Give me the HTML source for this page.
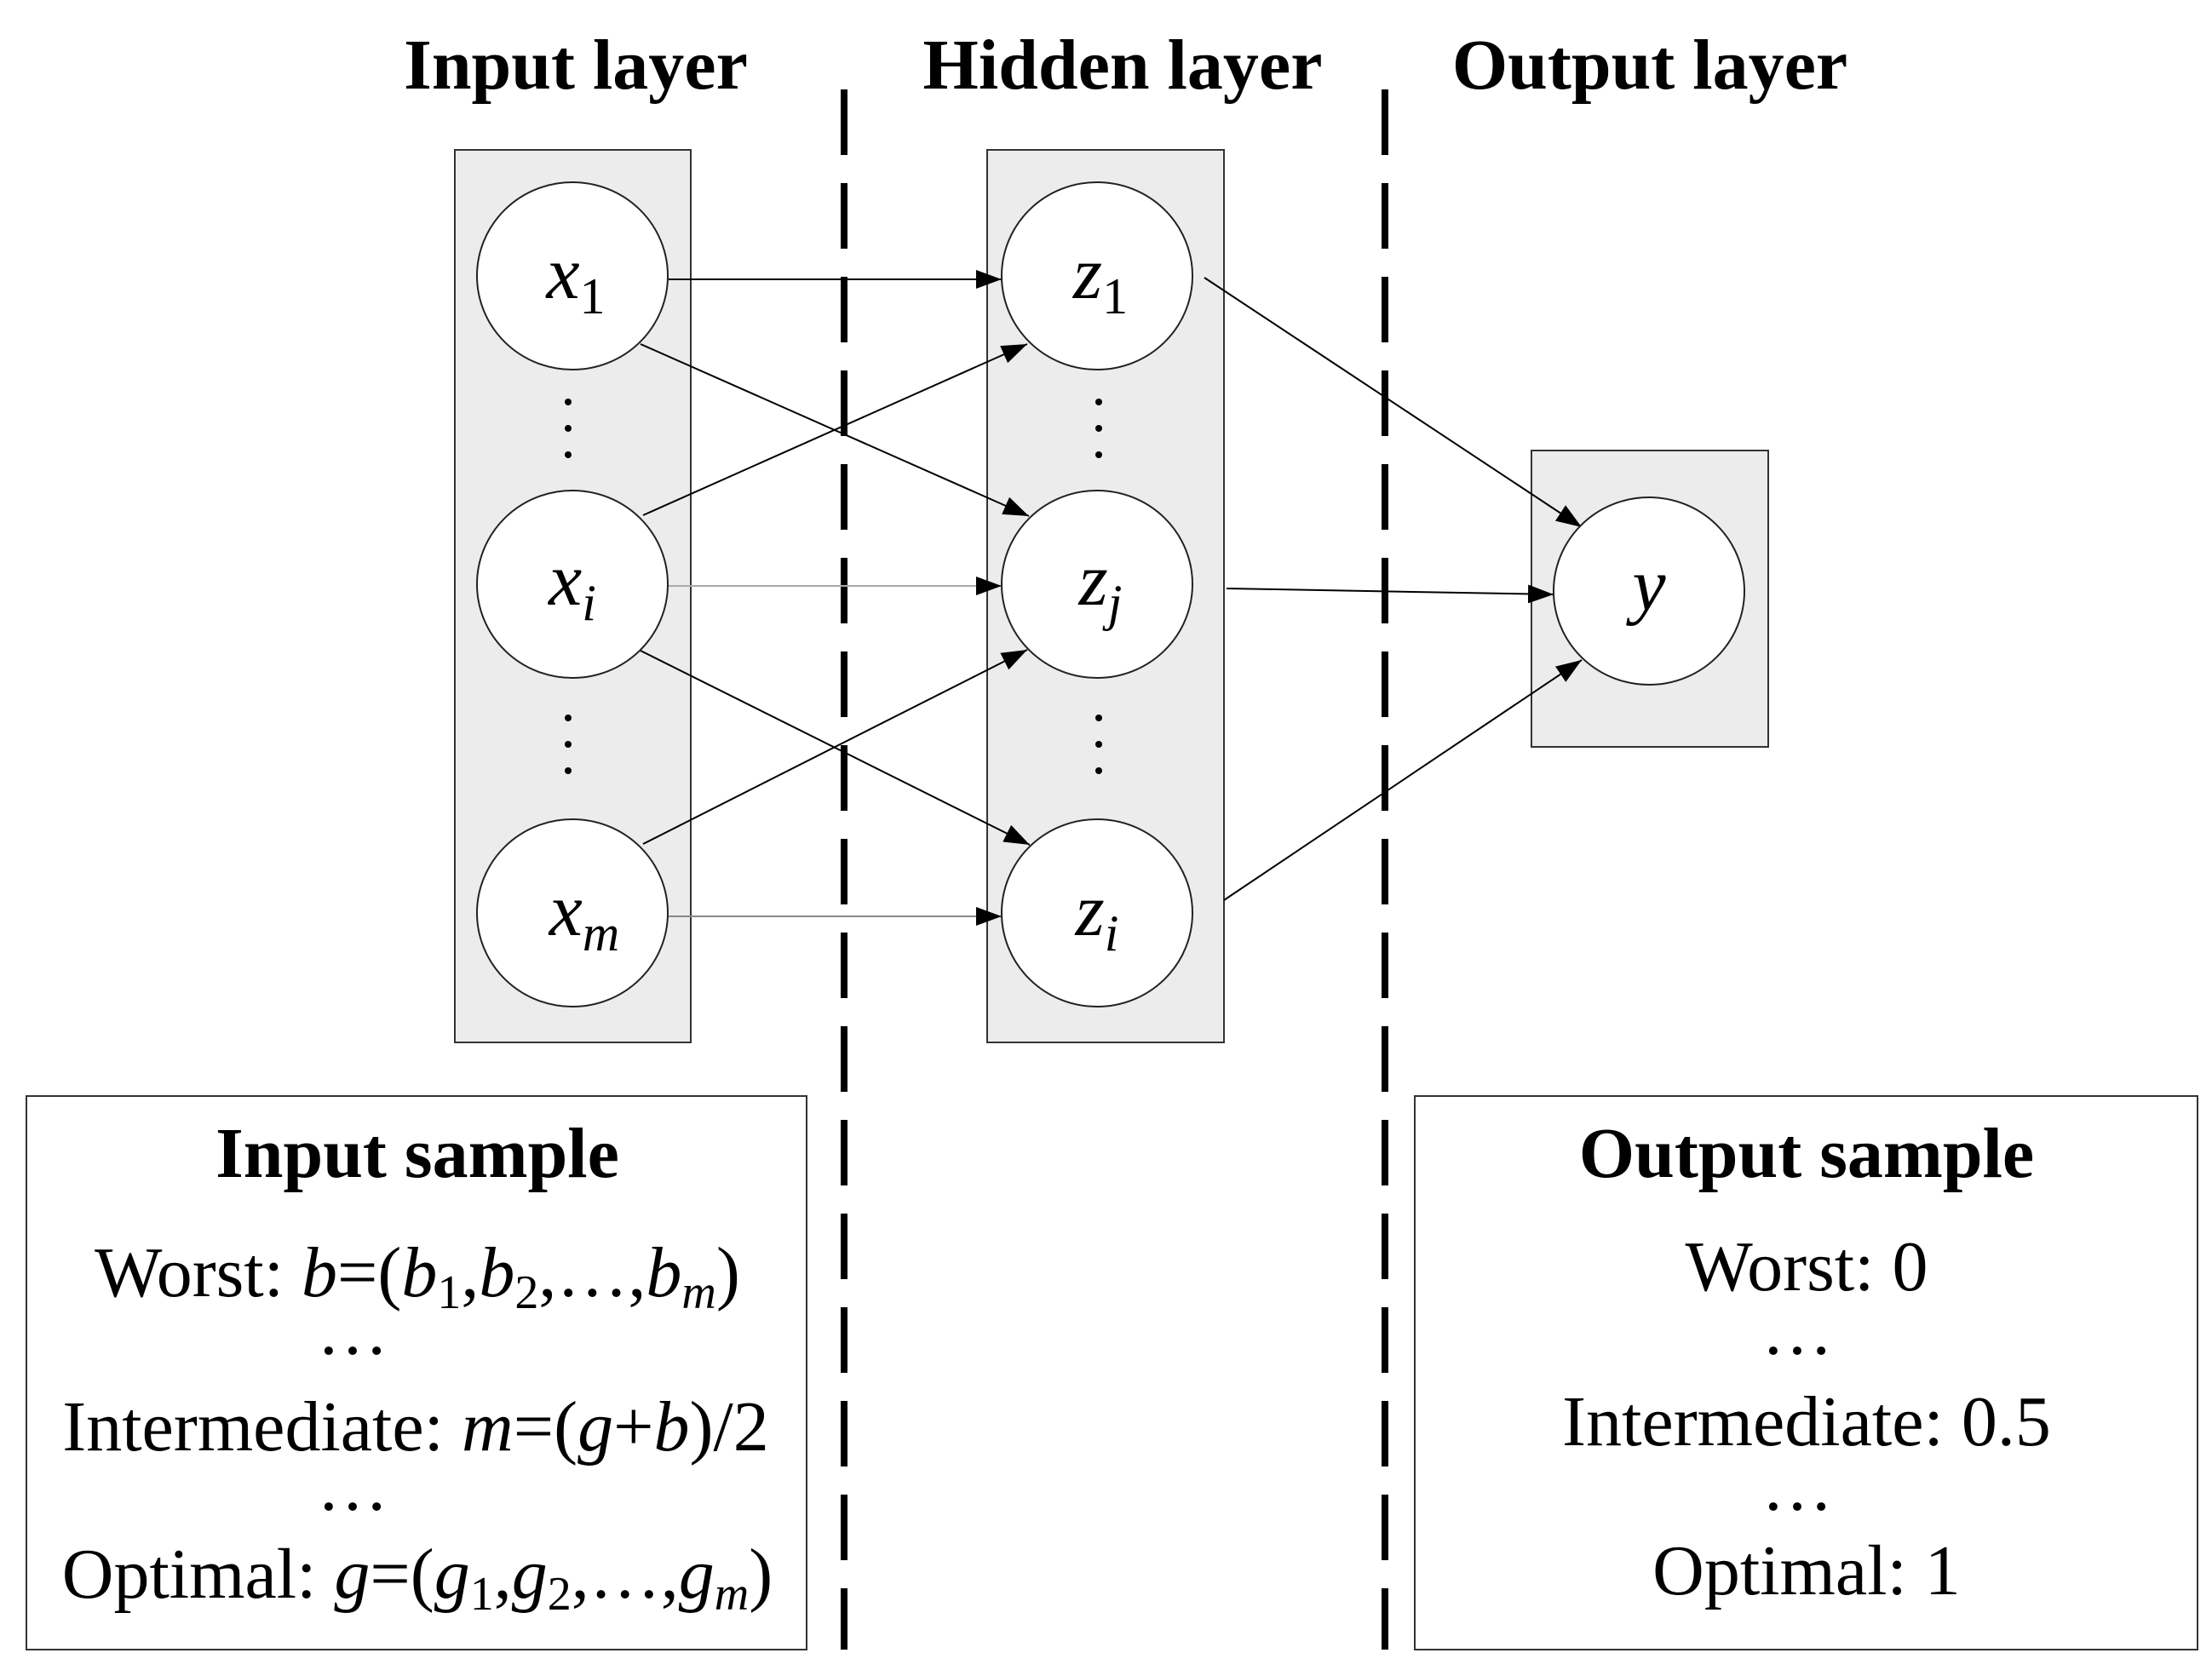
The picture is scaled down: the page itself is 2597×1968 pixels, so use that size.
<!DOCTYPE html>
<html><head><meta charset="utf-8"><style>
html,body{margin:0;padding:0;background:#fff;}
svg{display:block;}
text{font-family:"Liberation Serif",serif;}
</style></head><body>
<svg width="2597" height="1968" viewBox="0 0 2597 1968" xmlns="http://www.w3.org/2000/svg">
<defs>
<marker id="b" markerWidth="30" markerHeight="22" refX="30" refY="11" orient="auto" markerUnits="userSpaceOnUse" viewBox="0 0 30 22">
<path d="M0,0 L30,11 L0,22 z" fill="#000"/></marker>
</defs>
<g font-weight="bold" font-size="84" text-anchor="middle">
<text x="676" y="104">Input layer</text>
<text x="1318" y="104">Hidden layer</text>
<text x="1937" y="104">Output layer</text>
</g>
<rect x="534" y="176" width="277" height="1048" fill="#ececec" stroke="#333" stroke-width="2"/>
<rect x="1159" y="176" width="278" height="1048" fill="#ececec" stroke="#333" stroke-width="2"/>
<rect x="1798" y="529" width="278" height="348" fill="#ececec" stroke="#333" stroke-width="2"/>
<line x1="991" y1="105" x2="991" y2="1937" stroke="#000" stroke-width="8" stroke-dasharray="77,33"/>
<line x1="1626" y1="105" x2="1626" y2="1937" stroke="#000" stroke-width="8" stroke-dasharray="77,33"/>
<g stroke="#000" stroke-width="2" fill="none">
<line x1="785" y1="328" x2="1176" y2="328" marker-end="url(#b)"/>
<line x1="752" y1="404" x2="1208" y2="606" marker-end="url(#b)"/>
<line x1="755" y1="605" x2="1206" y2="404" marker-end="url(#b)"/>
<line x1="785" y1="688" x2="1176" y2="688" stroke="#aaa" marker-end="url(#b)"/>
<line x1="752" y1="764" x2="1209" y2="992" marker-end="url(#b)"/>
<line x1="755" y1="991" x2="1206" y2="763" marker-end="url(#b)"/>
<line x1="785" y1="1076" x2="1176" y2="1076" stroke="#888" marker-end="url(#b)"/>
<line x1="1414" y1="326" x2="1857" y2="619" marker-end="url(#b)"/>
<line x1="1440" y1="691" x2="1824" y2="698" marker-end="url(#b)"/>
<line x1="1437" y1="1057" x2="1857" y2="775" marker-end="url(#b)"/>
</g>
<g fill="#fff" stroke="#222" stroke-width="2">
<ellipse cx="672" cy="324" rx="112" ry="110"/>
<ellipse cx="672" cy="686" rx="112" ry="110"/>
<ellipse cx="672" cy="1072" rx="112" ry="110"/>
<ellipse cx="1288" cy="324" rx="112" ry="110"/>
<ellipse cx="1288" cy="686" rx="112" ry="110"/>
<ellipse cx="1288" cy="1072" rx="112" ry="110"/>
<ellipse cx="1936" cy="694" rx="112" ry="110"/>
</g>
<g fill="#000">
<circle cx="667" cy="472" r="4"/><circle cx="667" cy="503" r="4"/><circle cx="667" cy="534" r="4"/>
<circle cx="667" cy="843" r="4"/><circle cx="667" cy="874" r="4"/><circle cx="667" cy="905" r="4"/>
<circle cx="1290" cy="472" r="4"/><circle cx="1290" cy="503" r="4"/><circle cx="1290" cy="534" r="4"/>
<circle cx="1290" cy="843" r="4"/><circle cx="1290" cy="874" r="4"/><circle cx="1290" cy="905" r="4"/>
</g>
<g font-size="88" font-style="italic" text-anchor="middle">
<text x="676" y="350">x<tspan font-style="normal" font-size="60" dy="18">1</tspan></text>
<text x="672" y="710">x<tspan font-size="60" dy="18">i</tspan></text>
<text x="686" y="1098">x<tspan font-size="60" dy="18">m</tspan></text>
<text x="1292" y="350">z<tspan font-style="normal" font-size="60" dy="18">1</tspan></text>
<text x="1292" y="710">z<tspan font-size="60" dy="18">j</tspan></text>
<text x="1288" y="1098">z<tspan font-size="60" dy="18">i</tspan></text>
<text x="1936" y="716">y</text>
</g>
<rect x="31" y="1287" width="916" height="650" fill="#fff" stroke="#333" stroke-width="2"/>
<rect x="1661" y="1287" width="919" height="650" fill="#fff" stroke="#333" stroke-width="2"/>
<g font-size="84" text-anchor="middle">
<text x="490" y="1382" font-weight="bold" font-size="84">Input sample</text>
<text x="490" y="1522">Worst: <tspan font-style="italic">b</tspan>=(<tspan font-style="italic">b</tspan><tspan font-size="56" dy="14">1</tspan><tspan dy="-14">,</tspan><tspan font-style="italic">b</tspan><tspan font-size="56" dy="14">2</tspan><tspan dy="-14">,…,</tspan><tspan font-style="italic">b</tspan><tspan font-size="56" font-style="italic" dy="14">m</tspan><tspan dy="-14">)</tspan></text>
<text x="414" y="1590">…</text>
<text x="488" y="1703">Intermediate: <tspan font-style="italic">m</tspan>=(<tspan font-style="italic">g</tspan>+<tspan font-style="italic">b</tspan>)/2</text>
<text x="414" y="1773">…</text>
<text x="490" y="1876">Optimal: <tspan font-style="italic">g</tspan>=(<tspan font-style="italic">g</tspan><tspan font-size="56" dy="14">1</tspan><tspan dy="-14">,</tspan><tspan font-style="italic">g</tspan><tspan font-size="56" dy="14">2</tspan><tspan dy="-14">,…,</tspan><tspan font-style="italic">g</tspan><tspan font-size="56" font-style="italic" dy="14">m</tspan><tspan dy="-14">)</tspan></text>
<text x="2121" y="1382" font-weight="bold" font-size="84">Output sample</text>
<text x="2121" y="1515">Worst: 0</text>
<text x="2110" y="1590">…</text>
<text x="2121" y="1697">Intermediate: 0.5</text>
<text x="2110" y="1773">…</text>
<text x="2121" y="1872">Optimal: 1</text>
</g>
</svg>
</body></html>
